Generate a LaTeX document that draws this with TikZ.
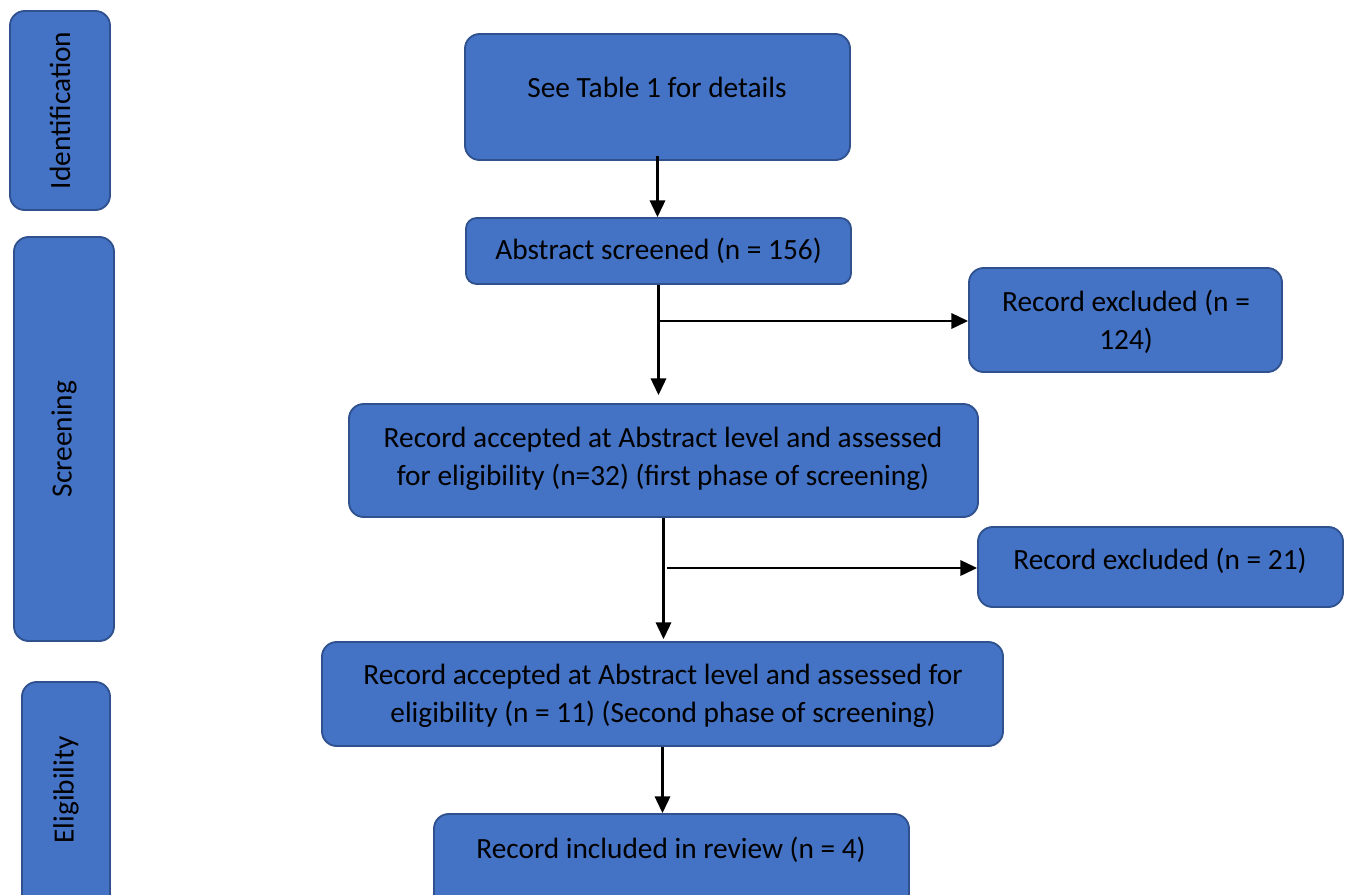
\documentclass[tikz,border=0pt]{standalone}
\usepackage{fontspec}
\setmainfont{Carlito}
\usetikzlibrary{arrows.meta,fit}
\definecolor{boxfill}{HTML}{4472C4}
\definecolor{boxline}{HTML}{2F528F}
\begin{document}
\begin{tikzpicture}[x=0.75pt,y=-0.75pt,
  box/.style={draw=boxline, line width=1.4pt, fill=boxfill, rounded corners=11pt, inner sep=0pt},
  sbox/.style={box, rounded corners=8pt},
  txt/.style={font=\fontsize{22}{28.5}\selectfont, align=center, text=black, inner sep=0pt},
  side/.style={txt, rotate=90},
  flow/.style={-{Triangle[length=12.5pt,width=11.5pt]}, line width=1.7pt}]
\useasboundingbox (0,0) rectangle (1347,894);
\clip (0,0) rectangle (1347,894);

% stage labels on the left
\node[box, fit={(10,11) (110,210)}] (sid) {};
\node[side] (tid) at (sid.center) {Identification};
\node[box, fit={(14,237) (114,641)}] (ssc) {};
\node[side] (tsc) at (ssc.center) {Screening};
\node[box, fit={(22,682) (110,910)}] (sel) {};
\node[side] (tel) at (66,790) {Eligibility};

% flow boxes
\node[box, fit={(465,34) (850,160)}] (b1) {};
\node[txt] (t1) at (657,87) {See Table 1 for details};
\node[sbox, fit={(466,218) (851,284)}] (b2) {};
\node[txt] (t2) at (b2.center) {Abstract screened (n = 156)};
\node[box, fit={(969,268) (1282,372)}] (b3) {};
\node[txt] (t3) at (1126,322) {Record excluded (n =\\124)};
\node[box, fit={(349,404) (978,517)}] (b4) {};
\node[txt] (t4) at (663,459) {Record accepted at Abstract level and assessed\\for eligibility (n=32) (first phase of screening)};
\node[box, fit={(978,527) (1343,607)}] (b5) {};
\node[txt] (t5) at (1160,561) {Record excluded (n = 21)};
\node[box, fit={(322,642) (1003,746)}] (b6) {};
\node[txt] (t6) at (663,696) {Record accepted at Abstract level and assessed for\\eligibility (n = 11) (Second phase of screening)};
\node[box, fit={(434,814) (909,920)}] (b7) {};
\node[txt] (t7) at (671,850) {Record included in review (n = 4)};

% branch points
\coordinate (j1) at (658,321);
\coordinate (j2) at (667,568);

% connectors
\draw[flow] ([yshift=3.5pt]b1.south) -- (b1.south |- b2.north);
\draw[flow, shorten >=6pt] (b2.south) -- (b2.south |- b4.north);
\draw[flow] (j1) -- (b3.west |- j1);
\draw[flow, shorten >=1.5pt] (b4.south) -- (b4.south |- b6.north);
\draw[flow] (j2) -- (b5.west |- j2);
\draw[flow] (b6.south) -- (b6.south |- b7.north);
\end{tikzpicture}
\end{document}
